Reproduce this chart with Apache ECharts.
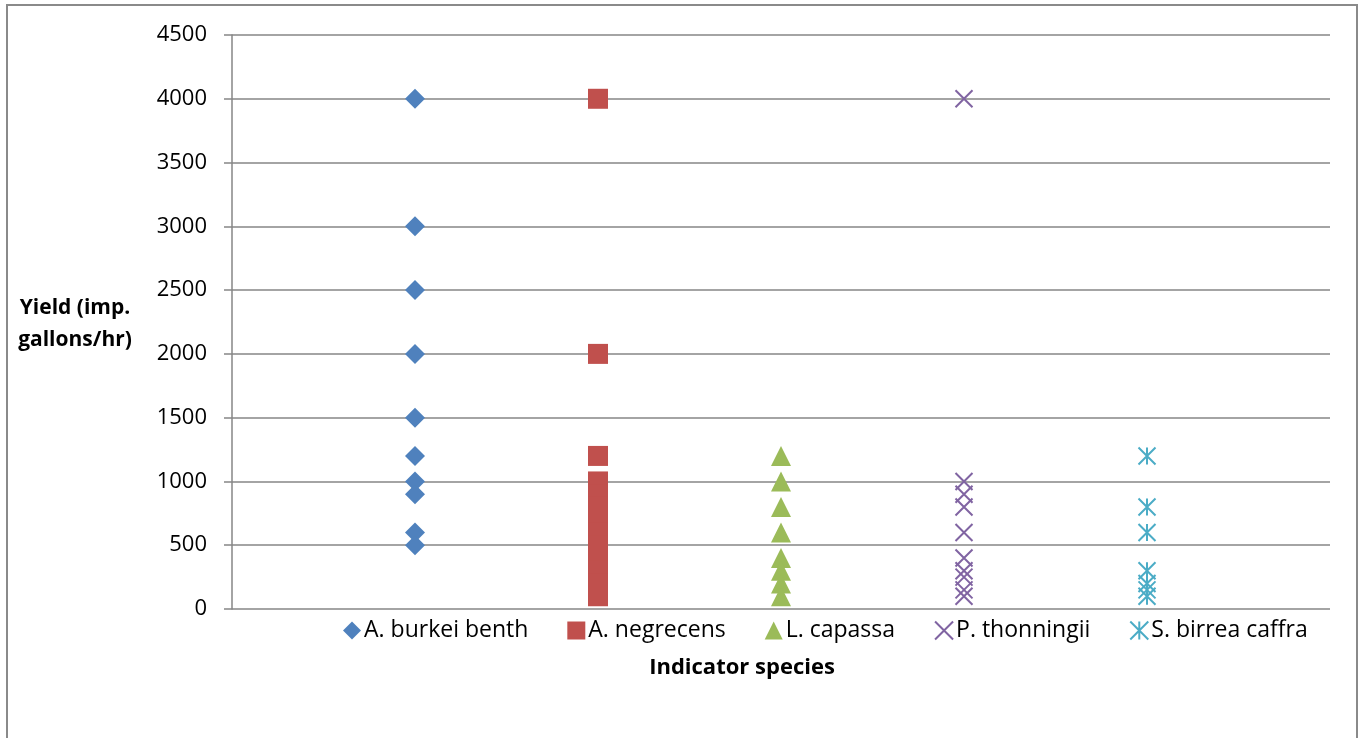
<!DOCTYPE html>
<html>
<head>
<meta charset="utf-8">
<title>Yield by indicator species</title>
<script src="https://cdn.jsdelivr.net/npm/echarts@6/dist/echarts.min.js"></script>
<style>
  html, body { margin: 0; padding: 0; background: #ffffff; }
  #chart { width: 1365px; height: 738px; }
</style>
</head>
<body>
<div id="chart"></div>
<script>
// Indicator species (one column each, placed at x = 1..5)
const species = ['A. burkei benth', 'A. negrecens', 'L. capassa', 'P. thonningii', 'S. birrea caffra'];

// Borehole yields (imp. gallons/hr) recorded for each species
const burkeiYield = [4000, 3000, 2500, 2000, 1500, 1200, 1000, 900, 600, 500];
const negrecensYield = [4000, 2000, 1200, 1000, 900, 800, 700, 600, 500, 400, 300, 200, 100];
const capassaYield = [1200, 1000, 800, 600, 400, 300, 200, 100];
const thonningiiYield = [4000, 1000, 900, 800, 600, 400, 300, 250, 150, 100];
const birreaYield = [1200, 800, 600, 300, 200, 150, 100];

// Y axis ticks
const yTicks = [0, 500, 1000, 1500, 2000, 2500, 3000, 3500, 4000, 4500];

const yields = [burkeiYield, negrecensYield, capassaYield, thonningiiYield, birreaYield];
const colors = ['#4F81BD', '#C0504D', '#9BBB59', '#8064A2', '#4BACC6'];
const FONT = '"Open Sans", "Liberation Sans", sans-serif';

const crossPath = 'path://M0,0L10,10M10,0L0,10';
const starPath = 'path://M0,0L10,10M10,0L0,10M5,0L5,10';

const markers = [
  { symbol: 'diamond', size: 20, filled: true },
  { symbol: 'rect', size: 20, filled: true },
  { symbol: 'triangle', size: 20, filled: true },
  { symbol: crossPath, size: 17, filled: false },
  { symbol: starPath, size: 17, filled: false }
];

const series = species.map((name, i) => {
  const m = markers[i];
  return {
    name: name,
    type: 'scatter',
    symbol: m.symbol,
    symbolSize: m.size,
    data: yields[i].map(v => [i + 1, v]),
    itemStyle: m.filled
      ? { color: colors[i], opacity: 1 }
      : { color: 'rgba(0,0,0,0)', borderColor: colors[i], borderWidth: 2, opacity: 1 },
    emphasis: { disabled: true },
    z: 3
  };
});

const chart = echarts.init(document.getElementById('chart'), null, { renderer: 'canvas' });

chart.setOption({
  animation: false,
  backgroundColor: '#ffffff',
  textStyle: { fontFamily: FONT },
  grid: { left: 232, right: 35, top: 35, bottom: 129, containLabel: false },
  xAxis: {
    type: 'value',
    min: 0,
    max: 6,
    interval: 1,
    axisLine: { show: false },
    axisTick: { show: false },
    axisLabel: { show: false },
    splitLine: { show: false }
  },
  yAxis: {
    type: 'value',
    min: yTicks[0],
    max: yTicks[yTicks.length - 1],
    interval: yTicks[1] - yTicks[0],
    axisLine: { show: true, lineStyle: { color: '#868686', width: 1.5 } },
    axisTick: { show: true, inside: false, length: 8, lineStyle: { color: '#868686', width: 1.5 } },
    axisLabel: {
      margin: 25,
      fontFamily: FONT,
      fontSize: 22,
      color: '#000000',
      formatter: v => String(v)
    },
    splitLine: { show: true, lineStyle: { color: '#868686', width: 1.5 } }
  },
  legend: {
    data: species,
    left: 338,
    top: 614,
    itemWidth: 18,
    itemHeight: 18,
    itemGap: 39,
    textStyle: { fontFamily: FONT, fontSize: 23, color: '#000000', padding: [0, 0, 0, -2] },
    selectedMode: false
  },
  graphic: [
    {
      type: 'rect',
      shape: { x: 7, y: 5, width: 1350, height: 745 },
      style: { fill: 'none', stroke: '#8a8a8a', lineWidth: 2 },
      silent: true,
      z: -1
    },
    {
      type: 'text',
      x: 75,
      y: 324,
      style: {
        text: 'Yield (imp.\ngallons/hr)',
        fontFamily: FONT,
        fontSize: 21,
        fontWeight: 'bold',
        fill: '#000000',
        align: 'center',
        verticalAlign: 'middle',
        textAlign: 'center',
        textVerticalAlign: 'middle',
        lineHeight: 32
      }
    },
    {
      type: 'text',
      x: 742,
      y: 668,
      style: {
        text: 'Indicator species',
        fontFamily: FONT,
        fontSize: 22,
        fontWeight: 'bold',
        fill: '#000000',
        align: 'center',
        verticalAlign: 'middle',
        textAlign: 'center',
        textVerticalAlign: 'middle'
      }
    }
  ],
  series: series
});
</script>
</body>
</html>
